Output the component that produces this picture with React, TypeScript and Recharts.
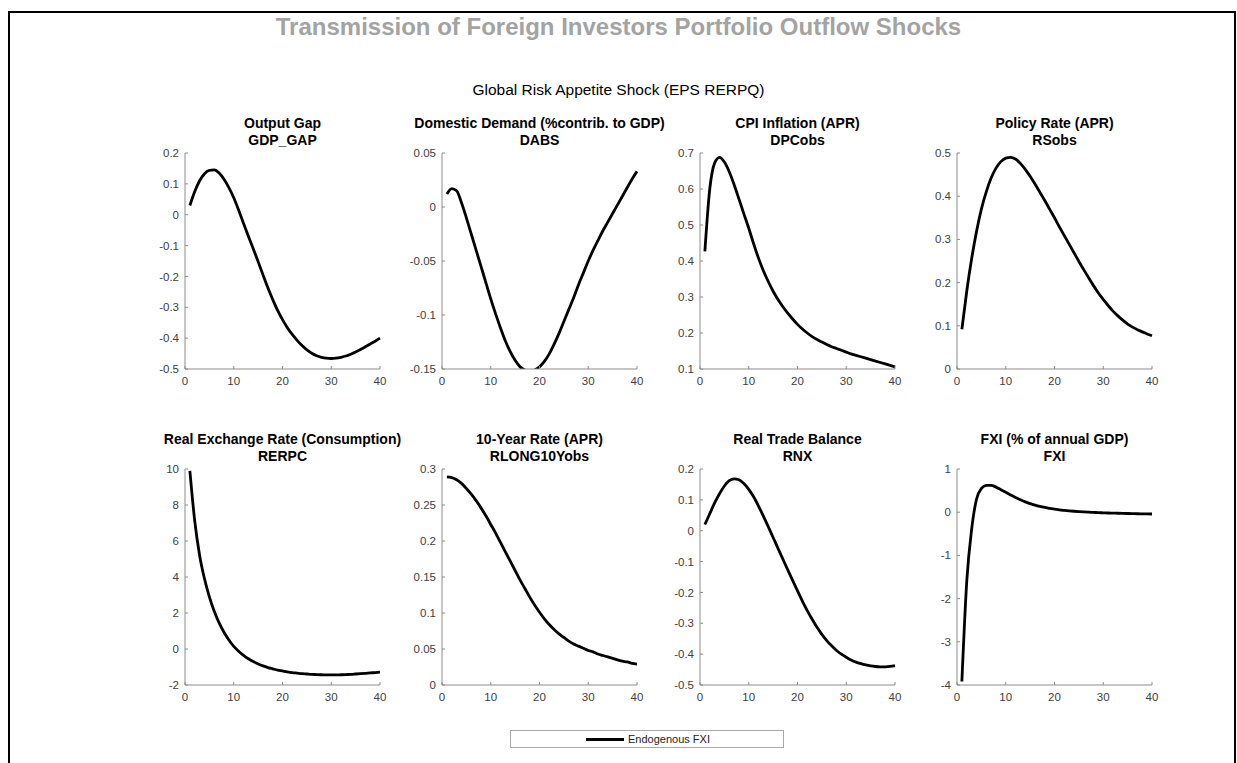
import { LineChart, Line, XAxis, YAxis } from 'recharts'

// quarters after the shock
const periods = [
  1, 2, 3, 4, 5, 6, 7, 8, 9, 10, 11, 12, 13, 14, 15, 16, 17, 18, 19, 20,
  21, 22, 23, 24, 25, 26, 27, 28, 29, 30, 31, 32, 33, 34, 35, 36, 37, 38, 39, 40,
]

const gdpGap = [
  0.03, 0.075, 0.11, 0.133, 0.144, 0.145, 0.135, 0.115, 0.088, 0.055,
  0.015, -0.028, -0.07, -0.11, -0.152, -0.195, -0.237, -0.275, -0.31, -0.34,
  -0.366, -0.388, -0.407, -0.424, -0.438, -0.449, -0.457, -0.462, -0.465, -0.466,
  -0.465, -0.462, -0.458, -0.452, -0.445, -0.437, -0.428, -0.419, -0.41, -0.4,
]
const dabs = [
  0.012, 0.017, 0.015, 0.004, -0.01, -0.025, -0.04, -0.055, -0.07, -0.085,
  -0.099, -0.112, -0.124, -0.134, -0.142, -0.148, -0.151, -0.152, -0.151, -0.148,
  -0.143, -0.136, -0.127, -0.117, -0.106, -0.095, -0.084, -0.072, -0.061, -0.05,
  -0.04, -0.031, -0.022, -0.014, -0.006, 0.002, 0.01, 0.018, 0.026, 0.033,
]
const dpcObs = [
  0.427, 0.6, 0.672, 0.688, 0.675, 0.648, 0.612, 0.572, 0.531, 0.491,
  0.448, 0.408, 0.373, 0.343, 0.316, 0.293, 0.273, 0.255, 0.239, 0.224,
  0.211, 0.2, 0.19, 0.182, 0.175, 0.168, 0.162, 0.157, 0.152, 0.147,
  0.142, 0.138, 0.134, 0.13, 0.126, 0.122, 0.118, 0.114, 0.11, 0.106,
]
const rsObs = [
  0.092, 0.18, 0.255, 0.318, 0.37, 0.41, 0.442, 0.465, 0.48, 0.488,
  0.49, 0.486, 0.476, 0.462, 0.446, 0.428, 0.409, 0.39, 0.37, 0.35,
  0.329, 0.309, 0.289, 0.269, 0.249, 0.23, 0.211, 0.193, 0.176, 0.161,
  0.147, 0.134, 0.123, 0.113, 0.104, 0.097, 0.091, 0.086, 0.081, 0.077,
]
const rerpc = [
  9.9, 7.1, 5.2, 3.9, 2.9, 2.1, 1.45, 0.93, 0.5, 0.15,
  -0.12, -0.35, -0.54, -0.7, -0.83, -0.94, -1.03, -1.1, -1.17, -1.22,
  -1.27, -1.31, -1.34, -1.37, -1.39, -1.41, -1.42, -1.43, -1.44, -1.44,
  -1.44, -1.43, -1.42, -1.41, -1.39, -1.37, -1.35, -1.33, -1.31, -1.29,
]
const rlong10 = [
  0.289, 0.288, 0.285, 0.28, 0.273, 0.265, 0.256, 0.246, 0.235, 0.223,
  0.211, 0.198, 0.185, 0.172, 0.159, 0.146, 0.134, 0.122, 0.111, 0.101,
  0.092, 0.084, 0.077, 0.071, 0.066, 0.061, 0.057, 0.054, 0.051, 0.048,
  0.046, 0.043, 0.041, 0.039, 0.037, 0.035, 0.033, 0.032, 0.03, 0.029,
]
const rnx = [
  0.02, 0.055, 0.09, 0.12, 0.145, 0.162, 0.168, 0.165, 0.153, 0.134,
  0.11, 0.08, 0.047, 0.013, -0.022, -0.057, -0.092, -0.127, -0.161, -0.195,
  -0.228, -0.259, -0.287, -0.313, -0.336, -0.356, -0.373, -0.388, -0.4, -0.41,
  -0.419, -0.426, -0.431, -0.435, -0.438, -0.44, -0.441, -0.441, -0.44, -0.437,
]
const fxi = [
  -3.92, -1.6, -0.4, 0.3, 0.55, 0.62, 0.62, 0.58, 0.52, 0.46,
  0.4, 0.34, 0.29, 0.24, 0.2, 0.165, 0.135, 0.11, 0.09, 0.07,
  0.055, 0.043, 0.032, 0.022, 0.013, 0.006, 0, -0.005, -0.01, -0.014,
  -0.018, -0.021, -0.024, -0.027, -0.03, -0.033, -0.036, -0.038, -0.04, -0.042,
]

const xTicks = [0, 10, 20, 30, 40]
const gdpGapTicks = [-0.5, -0.4, -0.3, -0.2, -0.1, 0, 0.1, 0.2]
const dabsTicks = [-0.15, -0.1, -0.05, 0, 0.05]
const dpcTicks = [0.1, 0.2, 0.3, 0.4, 0.5, 0.6, 0.7]
const rsTicks = [0, 0.1, 0.2, 0.3, 0.4, 0.5]
const rerTicks = [-2, 0, 2, 4, 6, 8, 10]
const rlongTicks = [0, 0.05, 0.1, 0.15, 0.2, 0.25, 0.3]
const rnxTicks = [-0.5, -0.4, -0.3, -0.2, -0.1, 0, 0.1, 0.2]
const fxiTicks = [-4, -3, -2, -1, 0, 1]

const panels = [
  { title: 'Output Gap', code: 'GDP_GAP', values: gdpGap, ticks: gdpGapTicks },
  { title: 'Domestic Demand (%contrib. to GDP)', code: 'DABS', values: dabs, ticks: dabsTicks },
  { title: 'CPI Inflation (APR)', code: 'DPCobs', values: dpcObs, ticks: dpcTicks },
  { title: 'Policy Rate (APR)', code: 'RSobs', values: rsObs, ticks: rsTicks },
  { title: 'Real Exchange Rate (Consumption)', code: 'RERPC', values: rerpc, ticks: rerTicks },
  { title: '10-Year Rate (APR)', code: 'RLONG10Yobs', values: rlong10, ticks: rlongTicks },
  { title: 'Real Trade Balance', code: 'RNX', values: rnx, ticks: rnxTicks },
  { title: 'FXI (% of annual GDP)', code: 'FXI', values: fxi, ticks: fxiTicks },
]

const FONT = '"Liberation Sans", Arial, Helvetica, sans-serif'
const AXIS = '#8c8c8c'
const LABEL = '#404040'
const colLeft = [185, 442, 700, 957]
const rowTop = [153, 469]
const PLOT_W = 195
const PLOT_H = 216
const Y_W = 50
const TOP = 40

function Panel({ panel, left, top }: { panel: typeof panels[number]; left: number; top: number }) {
  const data = periods.map((t, i) => ({ t, v: panel.values[i] }))
  const lo = panel.ticks[0]
  const hi = panel.ticks[panel.ticks.length - 1]
  return (
    <div style={{ position: 'absolute', left: left - Y_W, top: top - TOP, width: Y_W + PLOT_W + 15, height: TOP + PLOT_H + 30 }}>
      <div
        style={{
          position: 'absolute', left: Y_W + PLOT_W / 2 - 170, width: 340, top: 2,
          textAlign: 'center', fontFamily: FONT, fontWeight: 'bold', fontSize: '14px',
          lineHeight: '17px', color: '#000', whiteSpace: 'nowrap',
        }}
      >
        {panel.title}
        <br />
        {panel.code}
      </div>
      <div style={{ position: 'absolute', left: 0, top: 0 }}>
        <LineChart width={Y_W + PLOT_W + 15} height={TOP + PLOT_H + 30} data={data} margin={{ top: TOP, right: 15, left: 0, bottom: 0 }}>
          <XAxis
            dataKey="t" type="number" domain={[0, 40]} ticks={xTicks} height={30}
            axisLine={{ stroke: AXIS }} tickLine={{ stroke: AXIS }} tickSize={-3} tickMargin={11}
            tick={{ fill: LABEL, fontSize: 11.5, fontFamily: FONT }} interval={0}
          />
          <YAxis
            type="number" domain={[lo, hi]} ticks={panel.ticks} width={Y_W} allowDataOverflow
            axisLine={{ stroke: AXIS }} tickLine={{ stroke: AXIS }} tickSize={-3} tickMargin={9}
            tick={{ fill: LABEL, fontSize: 11.5, fontFamily: FONT }} interval={0}
          />
          <Line type="monotone" dataKey="v" stroke="#000" strokeWidth={2.8} dot={false} isAnimationActive={false} />
        </LineChart>
      </div>
    </div>
  )
}

export default function App() {
  return (
    <div style={{ position: 'fixed', left: 0, top: 0, width: 1237, height: 763, background: '#fff', overflow: 'hidden', fontFamily: FONT }}>
      <div style={{ position: 'absolute', left: 8, top: 11, width: 1224, height: 800, border: '2px solid #000', borderBottom: 'none' }} />
      <div style={{ position: 'absolute', left: 0, width: 1237, top: 13, lineHeight: '28px', textAlign: 'center', fontSize: '24px', fontWeight: 'bold', color: '#a3a3a3' }}>
        Transmission of Foreign Investors Portfolio Outflow Shocks
      </div>
      <div style={{ position: 'absolute', left: 0, width: 1237, top: 80, lineHeight: '20px', textAlign: 'center', fontSize: '15.5px', color: '#000' }}>
        Global Risk Appetite Shock (EPS RERPQ)
      </div>
      {panels.map((p, i) => (
        <Panel key={p.code} panel={p} left={colLeft[i % 4]} top={rowTop[Math.floor(i / 4)]} />
      ))}
      <div style={{ position: 'absolute', left: 510, top: 730, width: 272, height: 16, border: '1px solid #a8a8a8', background: '#fff' }}>
        <div style={{ position: 'absolute', left: 75, top: 7, width: 38, height: 3, background: '#000' }} />
        <div style={{ position: 'absolute', left: 117, top: 0, fontSize: '11px', lineHeight: '16px', color: '#222' }}>Endogenous FXI</div>
      </div>
    </div>
  )
}
